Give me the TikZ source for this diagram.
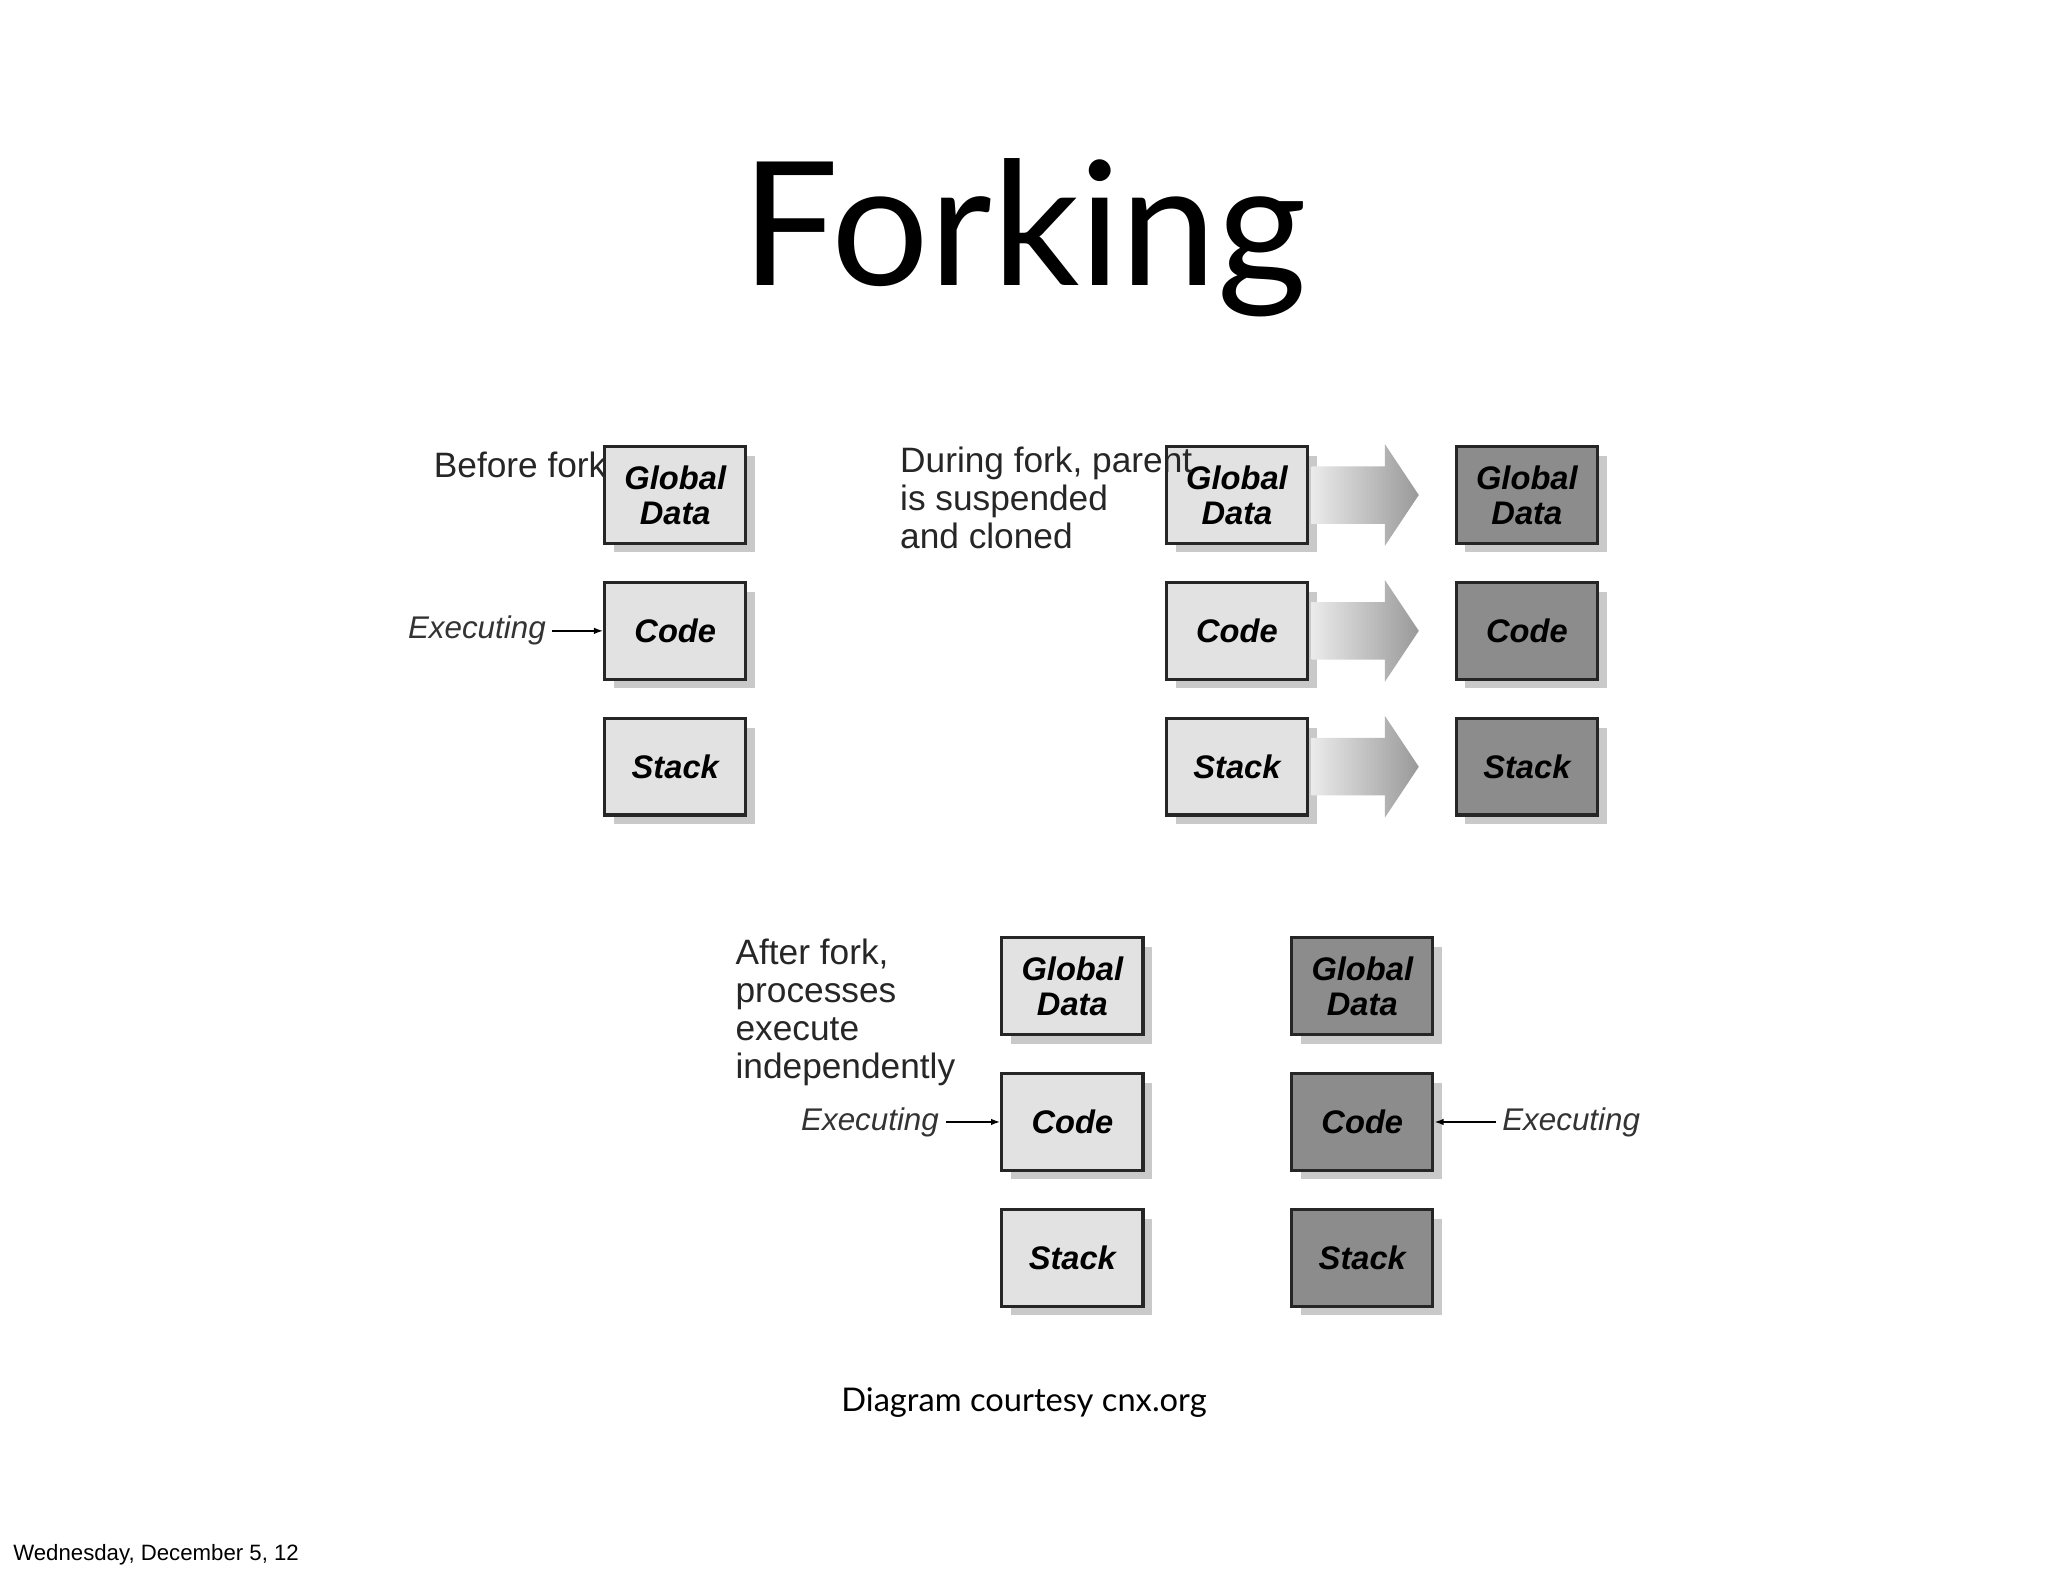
\documentclass[tikz,border=0pt]{standalone}
\usepackage{fontspec}
\setmainfont{Liberation Sans}
\newfontfamily\titlefont{Lato}
\usetikzlibrary{shadows,calc,arrows.meta}
\definecolor{lightbox}{HTML}{E2E2E2}
\definecolor{darkbox}{HTML}{8C8C8C}
\tikzset{
  mbox/.style={draw=black!85,line width=2.5pt,minimum width=108pt,minimum height=74pt,align=center,
    font=\fontsize{25}{27}\selectfont\bfseries\itshape,
    drop shadow={shadow xshift=7pt,shadow yshift=-7pt,opacity=0.35,fill=black!60}},
  lbox/.style={mbox,fill=lightbox},
  dbox/.style={mbox,fill=darkbox},
  lbl/.style={font=\fontsize{27}{29}\selectfont,text=black!85,inner sep=0pt,align=left},
  exe/.style={font=\fontsize{24}{26}\selectfont\itshape,text=black!80,inner sep=0pt},
  ptr/.style={line width=1.2pt,-{Latex[length=7pt,width=5pt]}},
}
\begin{document}
\begin{tikzpicture}[x=1pt,y=-1pt]
\fill[white] (0,0) rectangle (1568,1206);
\useasboundingbox (0,0) rectangle (1568,1206);
\node[font=\titlefont\fontsize{132}{140}\selectfont] (title) at (784,182) {Forking};
% before fork
\node[lbox] (b1) at (517,379) {Global\\Data};
\node[lbox] (b2) at (517,483) {Code};
\node[lbox] (b3) at (517,587) {Stack};
\node[lbl,anchor=west] (bf) at (332,356) {Before fork};
\node[exe,anchor=east] (be) at (418,483) {Executing};
\draw[ptr] ($(be.east)+(5,0)$) -- (b2.west);
% during fork
\node[lbox] (p1) at (947,379) {Global\\Data};
\node[lbox] (p2) at (947,483) {Code};
\node[lbox] (p3) at (947,587) {Stack};
\node[dbox] (c1) at (1169,379) {Global\\Data};
\node[dbox] (c2) at (1169,483) {Code};
\node[dbox] (c3) at (1169,587) {Stack};
\foreach \i in {1,2,3}{
  \shade[left color=black!8,right color=black!40]
    ($(p\i.east)+(2,-22)$) -- ($(p\i.east)+(58,-22)$) -- ($(p\i.east)+(58,-39)$) --
    ($(p\i.east)+(84,0)$) -- ($(p\i.east)+(58,39)$) -- ($(p\i.east)+(58,22)$) --
    ($(p\i.east)+(2,22)$) -- cycle;
}
\node[lbl,anchor=north west] (df) at (689,342) {During fork, parent\\is suspended\\and cloned};
% after fork
\node[lbox] (a1) at (821,755) {Global\\Data};
\node[lbox] (a2) at (821,859) {Code};
\node[lbox] (a3) at (821,963) {Stack};
\node[dbox] (d1) at (1043,755) {Global\\Data};
\node[dbox] (d2) at (1043,859) {Code};
\node[dbox] (d3) at (1043,963) {Stack};
\node[lbl,anchor=north west] (af) at (563,719) {After fork,\\processes\\execute\\independently};
\node[exe,anchor=east] (ae) at (719,859) {Executing};
\draw[ptr] ($(ae.east)+(5,0)$) -- (a2.west);
\node[exe,anchor=west] (ce) at (1150,859) {Executing};
\draw[ptr] ($(ce.west)+(-5,0)$) -- (d2.east);
\node[font=\titlefont\fontsize{25}{27}\selectfont] (cr) at (784,1074) {Diagram courtesy cnx.org};
\node[font=\fontsize{17}{19}\selectfont,anchor=west,inner sep=0pt] (ft) at (10,1190) {Wednesday, December 5, 12};
\end{tikzpicture}
\end{document}
